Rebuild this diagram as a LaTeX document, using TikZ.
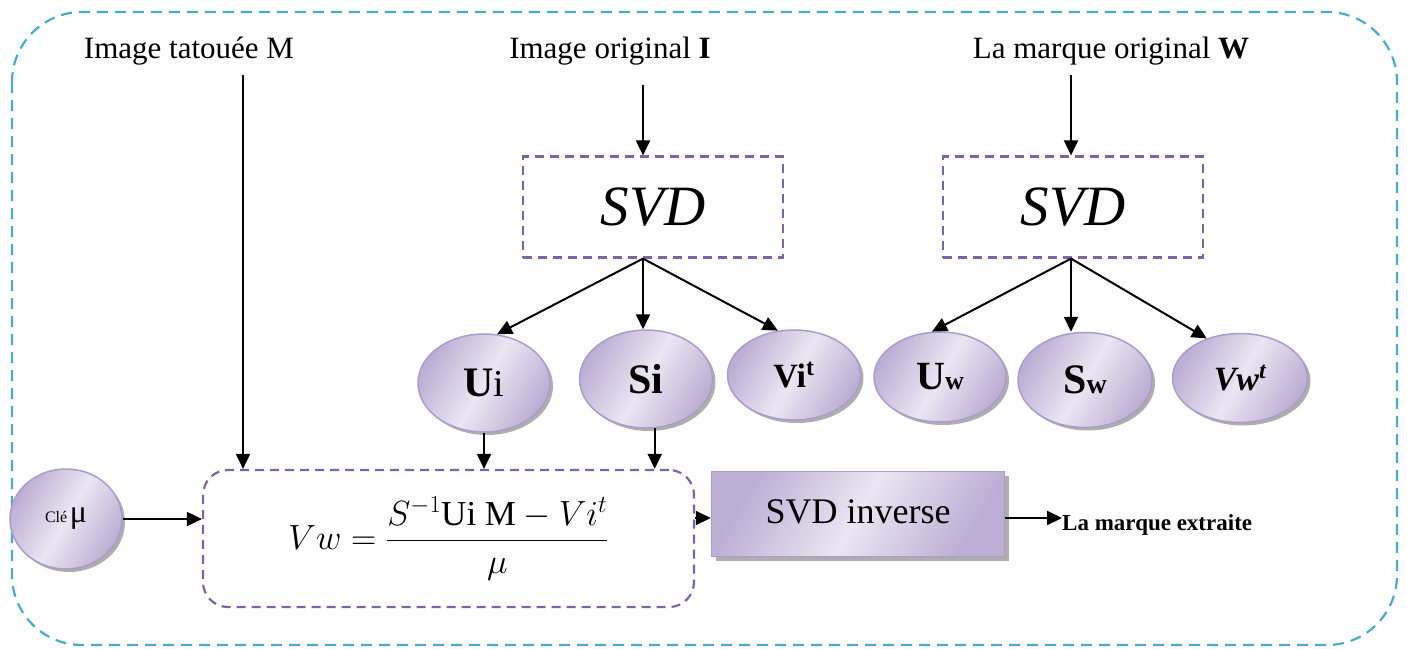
\documentclass[tikz,border=0pt]{standalone}
\usepackage{fix-cm}
\usepackage{fontspec}
\setmainfont{Liberation Serif}
\usetikzlibrary{arrows.meta,shapes.geometric,shadows}
\definecolor{cyanb}{HTML}{4BACC6}
\definecolor{purp}{HTML}{8064A2}
\definecolor{lavL}{HTML}{EAE6F2}
\definecolor{lavD}{HTML}{BCAED4}
\definecolor{lavB}{HTML}{AC9CCB}
\begin{document}
\begin{tikzpicture}[x=1pt,y=-1pt,
  arr/.style={line width=2pt,-{Triangle[length=15pt,width=14pt]}},
  svdbox/.style={draw=purp,dash pattern=on 9pt off 6pt,line width=2.2pt,minimum width=260pt,minimum height=101pt,inner sep=0pt,font=\fontsize{57}{60}\selectfont\itshape},
  bubble/.style={ellipse,draw=lavB,line width=1.5pt,left color=lavD,right color=lavD,middle color=lavL,shading angle=60,drop shadow={shadow xshift=3pt,shadow yshift=-3pt,fill=black!45,opacity=0.7},inner sep=0pt},
  lbl/.style={font=\fontsize{31}{34}\selectfont},
]
\useasboundingbox (0,0) rectangle (1407,648);
% outer frame
\draw[cyanb,line width=2.2pt,dash pattern=on 11pt off 7pt,rounded corners=70pt] (12,12) rectangle (1397,645);

% titles
\node[lbl] (tM) at (189,51) {Image tatouée M};
\node[lbl] (tI) at (610,51) {Image original \textbf{I}};
\node[lbl] (tW) at (1111,51) {La marque original \textbf{W}};

% SVD boxes
\node[svdbox] (svdI) at (653,207) {SVD};
\node[svdbox] (svdW) at (1073,207) {SVD};

% ellipses
\node[bubble,minimum width=132pt,minimum height=98pt] (Ui) at (484,383)
  {{\fontsize{42}{42}\selectfont\bfseries U}{\fontsize{38}{38}\selectfont i}};
\node[bubble,minimum width=133pt,minimum height=98pt] (Si) at (646,379)
  {\fontsize{42}{42}\selectfont\bfseries Si};
\node[bubble,minimum width=133pt,minimum height=90pt] (Vi) at (794,375)
  {\fontsize{34}{34}\selectfont\bfseries Vi\textsuperscript{t}};
\node[bubble,minimum width=132pt,minimum height=90pt] (Uw) at (940,377)
  {{\fontsize{40}{40}\selectfont\bfseries U}{\fontsize{26}{26}\selectfont\bfseries w}};
\node[bubble,minimum width=134pt,minimum height=95pt] (Sw) at (1085,380)
  {{\fontsize{42}{42}\selectfont\bfseries S}{\fontsize{28}{28}\selectfont\bfseries w}};
\node[bubble,minimum width=135pt,minimum height=89pt] (Vw) at (1240,378)
  {\fontsize{34}{34}\selectfont\bfseries\itshape Vw\textsuperscript{t}};
\node[bubble,minimum width=112pt,minimum height=100pt] (cle) at (66,519)
  {{\fontsize{16}{16}\selectfont Clé} {\fontsize{32}{32}\selectfont μ}};

% formula box
\node[draw=purp,dash pattern=on 9pt off 6pt,line width=2.2pt,rounded corners=25pt,minimum width=491pt,minimum height=137pt,inner sep=0pt] (form) at (448.5,538.5)
  {\fontsize{35}{40}\selectfont $\displaystyle Vw=\frac{S^{-1}\mathrm{Ui\ M}-Vi^{t}}{\mu}$};

% SVD inverse
\node[draw=lavB,line width=1.5pt,left color=lavD,right color=lavD,middle color=lavL,shading angle=60,drop shadow={shadow xshift=4pt,shadow yshift=-4pt,fill=black!45,opacity=0.7},minimum width=293pt,minimum height=85pt,inner sep=0pt,font=\fontsize{36}{40}\selectfont] (inv) at (858,514) {\raisebox{5pt}{SVD inverse}};
\node[anchor=west,inner sep=0pt,font=\fontsize{23}{26}\selectfont\bfseries] (out) at (1062,525) {La marque extraite};

% connectors
\coordinate (mTop) at (243,75);
\draw[arr] (mTop) -- (mTop |- form.north);
\coordinate (iTop) at (643,85);
\draw[arr] (iTop) -- (iTop |- svdI.north);
\coordinate (wTop) at (1071,75);
\draw[arr] (wTop) -- (wTop |- svdW.north);

\coordinate (iBot) at (iTop |- svdI.south);
\draw[arr] (iBot) -- (Ui.75);
\draw[arr] (iBot) -- (iBot |- Si.north);
\draw[arr] (iBot) -- (Vi.110);

\coordinate (wBot) at (wTop |- svdW.south);
\draw[arr] (wBot) -- (Uw.100);
\draw[arr] (wBot) -- (wBot |- Sw.north);
\draw[arr] (wBot) -- (Vw.130);

\draw[arr] (Ui.south) -- (Ui.south |- form.north);
\draw[arr] (Si.-80) -- (Si.-80 |- form.north);

\draw[arr] (cle.east) -- (cle.east -| form.west);
\draw[arr] (form.east |- 0,518) -- (inv.west |- 0,518);
\draw[arr] (inv.east |- 0,518) -- (out.west |- 0,518);
\end{tikzpicture}
\end{document}
